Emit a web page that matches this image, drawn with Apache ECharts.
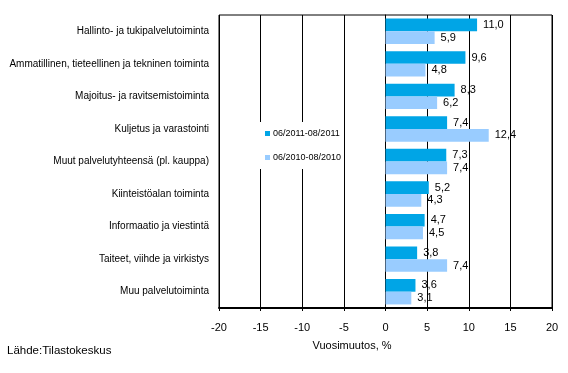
<!DOCTYPE html>
<html><head><meta charset="utf-8">
<script src="https://cdn.jsdelivr.net/npm/echarts@6/dist/echarts.min.js"></script>
<style>html,body{margin:0;padding:0;background:#fff}#c{width:568px;height:373px}</style>
</head><body><div id="c"></div>
<script>
const categories = [
  "Hallinto- ja tukipalvelutoiminta",
  "Ammatillinen, tieteellinen ja tekninen toiminta",
  "Majoitus- ja ravitsemistoiminta",
  "Kuljetus ja varastointi",
  "Muut palvelutyhteensä (pl. kauppa)",
  "Kiinteistöalan toiminta",
  "Informaatio ja viestintä",
  "Taiteet, viihde ja virkistys",
  "Muu palvelutoiminta"
];
const series2011Name = "06/2011-08/2011";
const series2010Name = "06/2010-08/2010";
const values2011 = [11.0, 9.6, 8.3, 7.4, 7.3, 5.2, 4.7, 3.8, 3.6];
const values2010 = [5.9, 4.8, 6.2, 12.4, 7.4, 4.3, 4.5, 7.4, 3.1];
const xTicks = [-20, -15, -10, -5, 0, 5, 10, 15, 20];
const axisTitle = "Vuosimuutos, %";
const sourceText = "Lähde:Tilastokeskus";

const FONT = "Liberation Sans, Arial, sans-serif";
const fmt = v => v.toFixed(1).replace('.', ',');
const chart = echarts.init(document.getElementById('c'), null, {renderer: 'canvas'});
chart.setOption({
  animation: false,
  backgroundColor: '#fff',
  textStyle: {fontFamily: FONT, color: '#000'},
  title: {
    text: sourceText, left: 2, top: 340,
    textStyle: {fontSize: 11.5, fontWeight: 'normal', color: '#000', fontFamily: FONT}
  },
  legend: {
    orient: 'vertical', left: 258, top: 122,
    backgroundColor: '#fff', padding: [7, 2, 7, 7],
    itemGap: 15, itemWidth: 5, itemHeight: 5, icon: 'rect',
    textStyle: {fontSize: 9, color: '#000', fontFamily: FONT, padding: [0, 0, 0, -2]},
    data: [series2011Name, series2010Name]
  },
  grid: {
    left: 219, right: 16, top: 15, bottom: 65,
    show: true, borderColor: '#000', borderWidth: 1, containLabel: false
  },
  xAxis: {
    type: 'value', min: xTicks[0], max: xTicks[xTicks.length - 1], interval: 5,
    name: axisTitle, nameLocation: 'middle', nameGap: 32,
    nameTextStyle: {fontSize: 11, color: '#000', fontFamily: FONT, padding: [0, 67, 0, 0]},
    axisLine: {show: true, onZero: false, lineStyle: {color: '#000', width: 2}},
    axisTick: {show: true, length: 3, lineStyle: {color: '#000'}},
    axisLabel: {fontSize: 11, color: '#000', margin: 14, fontFamily: FONT},
    splitLine: {show: true, lineStyle: {color: '#000', width: 1}}
  },
  yAxis: {
    type: 'category', data: categories, inverse: true,
    axisLine: {show: true, lineStyle: {color: '#000'}},
    axisTick: {show: false},
    axisLabel: {fontSize: 10, color: '#000', margin: 10, fontFamily: FONT},
    splitLine: {show: false}
  },
  series: [
    {
      name: series2011Name, type: 'bar', data: values2011,
      barCategoryGap: '22%', barGap: '0%',
      itemStyle: {color: '#00a5e6'},
      label: {show: true, position: 'right', distance: 6, fontSize: 11, color: '#000',
        fontFamily: FONT, formatter: p => fmt(p.value)}
    },
    {
      name: series2010Name, type: 'bar', data: values2010,
      barCategoryGap: '22%', barGap: '0%',
      itemStyle: {color: '#99ccff'},
      label: {show: true, position: 'right', distance: 6, fontSize: 11, color: '#000',
        fontFamily: FONT, formatter: p => fmt(p.value)}
    }
  ]
});
</script></body></html>
